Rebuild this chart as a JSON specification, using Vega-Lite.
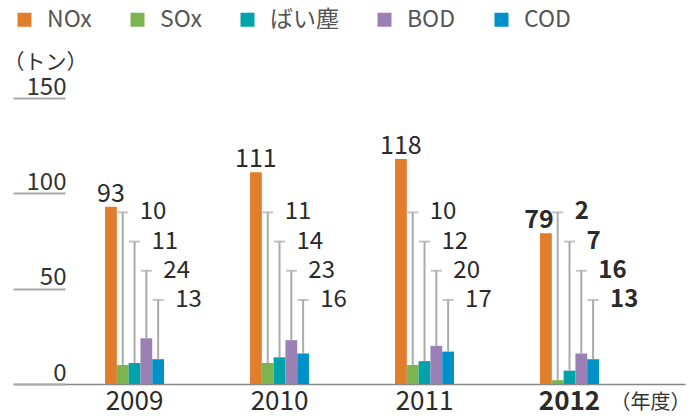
{
  "$schema": "https://vega.github.io/schema/vega-lite/v6.json",
  "width": 672,
  "height": 286,
  "autosize": {"type": "none"},
  "padding": {"left": 13, "top": 98, "right": 13, "bottom": 32},
  "background": "white",
  "config": {"view": {"stroke": null}, "font": "Noto Sans CJK JP"},
  "data": {
    "values": [
      {"year": "2009", "series": "NOx", "value": 93},
      {"year": "2009", "series": "SOx", "value": 10},
      {"year": "2009", "series": "ばい塵", "value": 11},
      {"year": "2009", "series": "BOD", "value": 24},
      {"year": "2009", "series": "COD", "value": 13},
      {"year": "2010", "series": "NOx", "value": 111},
      {"year": "2010", "series": "SOx", "value": 11},
      {"year": "2010", "series": "ばい塵", "value": 14},
      {"year": "2010", "series": "BOD", "value": 23},
      {"year": "2010", "series": "COD", "value": 16},
      {"year": "2011", "series": "NOx", "value": 118},
      {"year": "2011", "series": "SOx", "value": 10},
      {"year": "2011", "series": "ばい塵", "value": 12},
      {"year": "2011", "series": "BOD", "value": 20},
      {"year": "2011", "series": "COD", "value": 17},
      {"year": "2012", "series": "NOx", "value": 79},
      {"year": "2012", "series": "SOx", "value": 2},
      {"year": "2012", "series": "ばい塵", "value": 7},
      {"year": "2012", "series": "BOD", "value": 16},
      {"year": "2012", "series": "COD", "value": 13}
    ]
  },
  "encoding": {
    "x": {
      "field": "year",
      "type": "nominal",
      "scale": {"paddingInner": 0.593, "paddingOuter": 0.614, "align": 0.517},
      "axis": {
        "title": "（年度）",
        "titleX": 597,
        "titleY": 24,
        "titleAlign": "left",
        "titleBaseline": "alphabetic",
        "titleFontSize": 20,
        "titleFontWeight": "normal",
        "titleColor": "#333333",
        "labelAngle": 0,
        "labelFontSize": 26,
        "labelColor": "#2a2a2a",
        "labelFontWeight": {"condition": {"test": "datum.value === '2012'", "value": "bold"}, "value": "normal"},
        "labelPadding": 4,
        "ticks": false,
        "domainColor": "#888888",
        "domainWidth": 1.5,
        "labelFlush": false
      }
    },
    "xOffset": {
      "field": "series",
      "type": "nominal",
      "scale": {"domain": ["NOx", "SOx", "ばい塵", "BOD", "COD"], "paddingInner": 0, "paddingOuter": 0}
    }
  },
  "layer": [
    {
      "mark": {"type": "bar"},
      "encoding": {
        "y": {
          "field": "value",
          "type": "quantitative",
          "scale": {"domain": [0, 150], "nice": false},
          "axis": {
            "title": "（トン）",
            "titleAngle": 0,
            "titleX": -62,
            "titleY": -30,
            "titleAlign": "left",
            "titleBaseline": "alphabetic",
            "titleFontSize": 21,
            "titleFontWeight": "normal",
            "titleColor": "#333333",
            "offset": -52,
            "domain": false,
            "grid": false,
            "values": [0, 50, 100, 150],
            "tickSize": 52,
            "tickColor": "#aaaaaa",
            "tickWidth": 2,
            "labelAlign": "right",
            "labelBaseline": "alphabetic",
            "labelPadding": -53,
            "labelOffset": -4,
            "labelFontSize": 24,
            "labelColor": "#333333",
            "labelFlush": false
          }
        },
        "color": {
          "field": "series",
          "type": "nominal",
          "scale": {
            "domain": ["NOx", "SOx", "ばい塵", "BOD", "COD"],
            "range": ["#E07E2E", "#7CB450", "#00A3AA", "#9B80B6", "#0091C9"]
          },
          "legend": {
            "title": null,
            "orient": "none",
            "legendX": 0,
            "legendY": -90,
            "direction": "horizontal",
            "columns": 5,
            "columnPadding": 34,
            "symbolType": "square",
            "symbolSize": 196,
            "symbolStrokeWidth": 0,
            "labelFontSize": 23,
            "labelOffset": 11,
            "labelColor": "#555555"
          }
        }
      }
    },
    {
      "transform": [{"filter": "datum.series === 'NOx'"}],
      "mark": {
        "type": "text",
        "baseline": "alphabetic",
        "align": "center",
        "dy": -5,
        "dx": {"expr": "datum.year === '2012' ? -7 : 0"},
        "fontSize": 25,
        "color": "#2a2a2a",
        "fontWeight": {"expr": "datum.year === '2012' ? 'bold' : 'normal'"}
      },
      "encoding": {
        "y": {"field": "value", "type": "quantitative"},
        "text": {"field": "value", "type": "quantitative"}
      }
    },
    {
      "transform": [{"filter": "datum.series === 'SOx'"}],
      "layer": [
        {"mark": {"type": "rule", "color": "#aaaaaa", "strokeWidth": 2}, "encoding": {"y": {"field": "value", "type": "quantitative"}, "y2": {"datum": 90}}},
        {"mark": {"type": "tick", "orient": "horizontal", "size": 11, "thickness": 2, "xOffset": 5.5, "color": "#aaaaaa"}, "encoding": {"y": {"datum": 90}}},
        {"mark": {"type": "text", "align": "left", "baseline": "middle", "dx": 17, "fontSize": 24, "color": "#2a2a2a", "fontWeight": {"expr": "datum.year === '2012' ? 'bold' : 'normal'"}}, "encoding": {"y": {"datum": 90}, "text": {"field": "value", "type": "quantitative"}}}
      ]
    },
    {
      "transform": [{"filter": "datum.series === 'ばい塵'"}],
      "layer": [
        {"mark": {"type": "rule", "color": "#aaaaaa", "strokeWidth": 2}, "encoding": {"y": {"field": "value", "type": "quantitative"}, "y2": {"datum": 74.7}}},
        {"mark": {"type": "tick", "orient": "horizontal", "size": 11, "thickness": 2, "xOffset": 5.5, "color": "#aaaaaa"}, "encoding": {"y": {"datum": 74.7}}},
        {"mark": {"type": "text", "align": "left", "baseline": "middle", "dx": 17, "fontSize": 24, "color": "#2a2a2a", "fontWeight": {"expr": "datum.year === '2012' ? 'bold' : 'normal'"}}, "encoding": {"y": {"datum": 74.7}, "text": {"field": "value", "type": "quantitative"}}}
      ]
    },
    {
      "transform": [{"filter": "datum.series === 'BOD'"}],
      "layer": [
        {"mark": {"type": "rule", "color": "#aaaaaa", "strokeWidth": 2}, "encoding": {"y": {"field": "value", "type": "quantitative"}, "y2": {"datum": 59.4}}},
        {"mark": {"type": "tick", "orient": "horizontal", "size": 11, "thickness": 2, "xOffset": 5.5, "color": "#aaaaaa"}, "encoding": {"y": {"datum": 59.4}}},
        {"mark": {"type": "text", "align": "left", "baseline": "middle", "dx": 17, "fontSize": 24, "color": "#2a2a2a", "fontWeight": {"expr": "datum.year === '2012' ? 'bold' : 'normal'"}}, "encoding": {"y": {"datum": 59.4}, "text": {"field": "value", "type": "quantitative"}}}
      ]
    },
    {
      "transform": [{"filter": "datum.series === 'COD'"}],
      "layer": [
        {"mark": {"type": "rule", "color": "#aaaaaa", "strokeWidth": 2}, "encoding": {"y": {"field": "value", "type": "quantitative"}, "y2": {"datum": 44.1}}},
        {"mark": {"type": "tick", "orient": "horizontal", "size": 11, "thickness": 2, "xOffset": 5.5, "color": "#aaaaaa"}, "encoding": {"y": {"datum": 44.1}}},
        {"mark": {"type": "text", "align": "left", "baseline": "middle", "dx": 17, "fontSize": 24, "color": "#2a2a2a", "fontWeight": {"expr": "datum.year === '2012' ? 'bold' : 'normal'"}}, "encoding": {"y": {"datum": 44.1}, "text": {"field": "value", "type": "quantitative"}}}
      ]
    }
  ]
}
